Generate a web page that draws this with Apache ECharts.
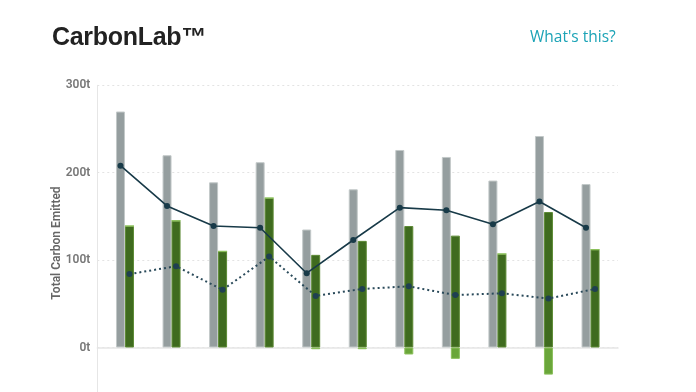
<!DOCTYPE html>
<html>
<head>
<meta charset="utf-8">
<script src="https://cdn.jsdelivr.net/npm/echarts@6/dist/echarts.min.js"></script>
<style>
html,body{margin:0;padding:0;background:#fff;overflow:hidden;width:696px;height:392px;}
#title{position:absolute;left:52px;top:22px;font-family:"Liberation Sans",sans-serif;font-weight:700;font-size:25px;color:#222;letter-spacing:-0.3px;}
#help{position:absolute;left:530px;top:25px;font-family:"Open Sans",sans-serif;font-size:15.5px;color:#1ba3b6;}
#chart{position:absolute;left:0;top:0;width:696px;height:440px;}
</style>
</head>
<body>
<div id="chart"></div>
<div id="title">CarbonLab™</div>
<div id="help">What's this?</div>
<script>
const categories = ['1','2','3','4','5','6','7','8','9','10','11'];
const totalEmitted = [270, 220, 189, 212, 135, 181, 226, 218, 191, 242, 187];
const greenPositive = [139, 145, 110, 171, 106, 122, 139, 128, 107, 155, 112];
const greenNegative = [0, 0, 0, 0, -2, -2, -8, -13, 0, -31, 0];
const solidLine = [208, 162, 139, 137, 85, 123, 160, 157, 141, 167, 137];
const dottedLine = [84, 93, 66, 104, 59, 67, 70, 60, 62, 56, 67];
const yTicks = [0, 100, 200, 300];

const W = 696;
const barW = 9;
const dataLeft = 101.7, dataRight = 82.2;
const step = (W - dataLeft - dataRight) / categories.length;
const d = (barW / 2) / step;
const n = categories.length;

const chart = echarts.init(document.getElementById('chart'), null, {renderer:'canvas'});
const yCommon = {type:'value', min:-100, max:300, interval:100};
chart.setOption({
  animation:false,
  grid:[
    {left:97.3, right:78, top:85.3, bottom:5.1},
    {left:dataLeft, right:dataRight, top:85.3, bottom:5.1}
  ],
  xAxis:[
    {type:'category', gridIndex:0, data:categories, axisLabel:{show:false}, axisTick:{show:false},
     axisLine:{show:true, onZero:true, lineStyle:{color:'#e6e6e6', width:1.5}}},
    {type:'category', gridIndex:1, data:categories, show:false},
    {type:'value', gridIndex:1, min:-0.5 + d, max:n - 0.5 + d, show:false},
    {type:'value', gridIndex:1, min:-0.5 - d, max:n - 0.5 - d, show:false}
  ],
  yAxis:[
    Object.assign({}, yCommon, {gridIndex:0,
      axisLine:{show:true, lineStyle:{color:'#e6e6e6', width:1}},
      axisTick:{show:false},
      axisLabel:{showMinLabel:false, margin:7, color:'#777', fontSize:12, fontWeight:600,
        fontFamily:'Roboto', formatter: v => yTicks.indexOf(v) >= 0 ? v + 't' : ''},
      splitLine:{show:true, lineStyle:{color:'#e3e3e3', type:[2,3], width:1}}
    }),
    Object.assign({}, yCommon, {gridIndex:1, show:false, splitLine:{show:false}})
  ],
  graphic:[{
    type:'text', x:57, y:243, rotation:Math.PI/2,
    style:{text:'Total Carbon Emitted', fill:'#666', font:'600 12px Roboto', align:'center', verticalAlign:'middle'}
  }],
  series:[
    {type:'bar', xAxisIndex:1, yAxisIndex:1, data:totalEmitted, barWidth:barW, barGap:'0%',
     itemStyle:{color:'#959e9f', borderColor:'#c3c9c9', borderWidth:1}},
    {type:'bar', xAxisIndex:1, yAxisIndex:1, data:greenPositive, barWidth:barW, stack:'g',
     itemStyle:{color:'#3f6b1f', borderColor:'#5e8b36', borderWidth:1}},
    {type:'bar', xAxisIndex:1, yAxisIndex:1, data:greenNegative, barWidth:barW, stack:'g',
     itemStyle:{color:'#6aa63a', borderColor:'#8cc05c', borderWidth:1}},
    {type:'line', xAxisIndex:2, yAxisIndex:1, data:solidLine.map((v,i)=>[i,v]),
     symbol:'circle', symbolSize:6, lineStyle:{color:'#183a48', width:1.6},
     itemStyle:{color:'#183a48'}, z:5},
    {type:'line', xAxisIndex:3, yAxisIndex:1, data:dottedLine.map((v,i)=>[i,v]),
     symbol:'circle', symbolSize:6, lineStyle:{color:'#2a4a5a', width:2, type:[2,3]},
     itemStyle:{color:'#1f4050'}, z:5}
  ]
});
</script>
</body>
</html>
